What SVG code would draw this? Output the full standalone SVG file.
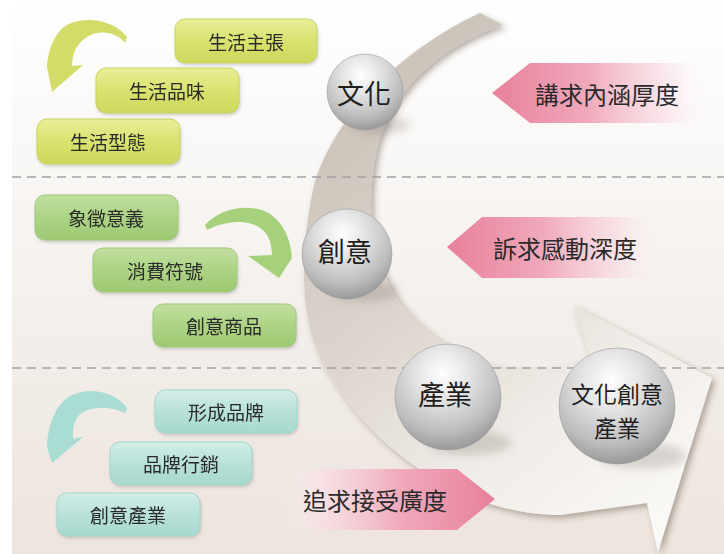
<svg xmlns="http://www.w3.org/2000/svg" width="724" height="554" viewBox="0 0 724 554">
<defs>
<style>
.bt{font-family:"Noto Sans CJK TC","Noto Sans CJK SC",sans-serif;font-size:19px;fill:#2a2a2a;text-anchor:middle;dominant-baseline:central}
.pt{font-family:"Noto Sans CJK TC","Noto Sans CJK SC",sans-serif;font-size:24px;fill:#2a2a2a;text-anchor:middle;dominant-baseline:central}
.st{font-family:"Noto Sans CJK TC","Noto Sans CJK SC",sans-serif;font-size:27px;fill:#1e1e1e;text-anchor:middle;dominant-baseline:central}
.st2{font-family:"Noto Sans CJK TC","Noto Sans CJK SC",sans-serif;font-size:23px;fill:#1e1e1e;text-anchor:middle;dominant-baseline:central}
.dash{stroke:#a3a3a3;stroke-width:1.6;stroke-dasharray:9 6;fill:none}
.yb{fill:url(#gy);stroke:#c9d25f;stroke-width:1}
.gb{fill:url(#gg);stroke:#9fc978;stroke-width:1}
.tb{fill:url(#gt);stroke:#a3d6cc;stroke-width:1}
.ball{fill:url(#gball);stroke:#9c9c9c;stroke-width:0.6}
.sh{fill:#6b5f55;opacity:0.22;filter:url(#blur)}
</style>
<linearGradient id="gbg" x1="0" y1="0" x2="0" y2="1">
<stop offset="0" stop-color="#ffffff"/>
<stop offset="0.3" stop-color="#f9f7f5"/>
<stop offset="0.65" stop-color="#f2ede8"/>
<stop offset="1" stop-color="#ede4dd"/>
</linearGradient>
<linearGradient id="gband" x1="0.25" y1="0" x2="0.85" y2="1">
<stop offset="0" stop-color="#c9c0b6"/>
<stop offset="0.4" stop-color="#dcd5cd"/>
<stop offset="0.7" stop-color="#f0ece7"/>
<stop offset="1" stop-color="#fbfaf8"/>
</linearGradient>
<linearGradient id="gy" x1="0" y1="0" x2="0" y2="1">
<stop offset="0" stop-color="#e8ee98"/>
<stop offset="0.5" stop-color="#d9e26f"/>
<stop offset="1" stop-color="#cdd85c"/>
</linearGradient>
<linearGradient id="gg" x1="0" y1="0" x2="0" y2="1">
<stop offset="0" stop-color="#c2e0a0"/>
<stop offset="0.5" stop-color="#acd384"/>
<stop offset="1" stop-color="#9dc973"/>
</linearGradient>
<linearGradient id="gt" x1="0" y1="0" x2="0" y2="1">
<stop offset="0" stop-color="#d2eee8"/>
<stop offset="0.5" stop-color="#b8e1d9"/>
<stop offset="1" stop-color="#a7d8ce"/>
</linearGradient>
<linearGradient id="gpl" x1="0" y1="0" x2="1" y2="0">
<stop offset="0" stop-color="#e8809b"/>
<stop offset="0.45" stop-color="#f0a9bb"/>
<stop offset="0.8" stop-color="#f9dbe3" stop-opacity="0.7"/>
<stop offset="1" stop-color="#fdf2f5" stop-opacity="0"/>
</linearGradient>
<linearGradient id="gpr" x1="1" y1="0" x2="0" y2="0">
<stop offset="0" stop-color="#e8809b"/>
<stop offset="0.45" stop-color="#f0a9bb"/>
<stop offset="0.8" stop-color="#f9dbe3" stop-opacity="0.7"/>
<stop offset="1" stop-color="#fdf2f5" stop-opacity="0"/>
</linearGradient>
<radialGradient id="gball" cx="0.45" cy="0.28" r="0.78">
<stop offset="0" stop-color="#ffffff"/>
<stop offset="0.3" stop-color="#e6e6e6"/>
<stop offset="0.7" stop-color="#bdbdbd"/>
<stop offset="0.92" stop-color="#9a9a9a"/>
<stop offset="1" stop-color="#8a8a8a"/>
</radialGradient>
<filter id="blur" x="-50%" y="-50%" width="200%" height="200%"><feGaussianBlur stdDeviation="4"/></filter>
<filter id="ds" x="-10%" y="-10%" width="130%" height="130%"><feDropShadow dx="3" dy="3" stdDeviation="3" flood-color="#4a3a2a" flood-opacity="0.4"/></filter>
<filter id="bs" x="-10%" y="-20%" width="130%" height="150%"><feDropShadow dx="1" dy="2" stdDeviation="1.5" flood-color="#777" flood-opacity="0.3"/></filter>
</defs>

<rect x="0" y="0" width="724" height="554" fill="#ffffff"/>
<rect x="12" y="0" width="712" height="554" fill="url(#gbg)"/>

<g id="big-arrow">
<path d="M480,13 C400,50 330,120 313,190 C298,260 300,330 330,375 C370,445 460,515 560,515 L647,503 L658,552 L712,378 L573,305 L590,357 C560,372 520,376 480,362 C440,345 400,315 385,275 C370,240 368,200 375,160 C385,100 430,50 503,25 Z" fill="url(#gband)" filter="url(#ds)"/>
</g>

<g id="dividers">
<line class="dash" x1="12" y1="177" x2="724" y2="177"/>
<line class="dash" x1="12" y1="368" x2="724" y2="368"/>
</g>

<g id="connectors">
<path id="arrow-yellow" d="M127,37 C115,20 85,15 67,25 C55,32 48,50 47,67 L52,92 L83,65 L72,66 C72,52 78,40 93,34 C105,30 118,34 125,43 Z" fill="#d3dc68"/>
<path id="arrow-green" d="M205,225 C220,208 250,202 270,214 C285,224 291,242 292,258 L279,278 L248,256 L272,255 C272,240 266,228 252,224 C236,219 218,224 207,230 Z" fill="#a7d07c"/>
<path id="arrow-teal" d="M127,408 C115,392 90,386 70,396 C55,405 48,425 47,447 L52,463 L83,437 L73,439 C72,425 76,415 85,411 C100,405 115,408 125,413 Z" fill="#a9dcd3"/>
</g>

<g id="box-shenghuo-zhuzhang" filter="url(#bs)"><rect class="yb" x="175" y="19" width="142" height="44" rx="10"/><text class="bt" x="246" y="41">生活主張</text></g>
<g id="box-shenghuo-pinwei" filter="url(#bs)"><rect class="yb" x="96" y="68" width="143" height="45" rx="10"/><text class="bt" x="167" y="90.5">生活品味</text></g>
<g id="box-shenghuo-xingtai" filter="url(#bs)"><rect class="yb" x="37" y="119" width="143" height="45" rx="10"/><text class="bt" x="108" y="141.5">生活型態</text></g>

<g id="box-xiangzheng" filter="url(#bs)"><rect class="gb" x="35" y="195" width="143" height="45" rx="10"/><text class="bt" x="106" y="217.5">象徵意義</text></g>
<g id="box-xiaofei" filter="url(#bs)"><rect class="gb" x="93" y="248" width="144" height="44" rx="10"/><text class="bt" x="165" y="270">消費符號</text></g>
<g id="box-chuangyi-shangpin" filter="url(#bs)"><rect class="gb" x="153" y="304" width="143" height="43" rx="10"/><text class="bt" x="224" y="325.5">創意商品</text></g>

<g id="box-xingcheng" filter="url(#bs)"><rect class="tb" x="155" y="390" width="142" height="43" rx="10"/><text class="bt" x="226" y="411.5">形成品牌</text></g>
<g id="box-pinpai" filter="url(#bs)"><rect class="tb" x="110" y="442" width="142" height="43" rx="10"/><text class="bt" x="181" y="463.5">品牌行銷</text></g>
<g id="box-chuangyi-chanye" filter="url(#bs)"><rect class="tb" x="57" y="493" width="143" height="43" rx="10"/><text class="bt" x="128" y="514.5">創意產業</text></g>

<g id="pink-neihan">
<polygon points="492,93 530,63 705,63 705,123 530,123" fill="url(#gpl)"/>
<text class="pt" x="607" y="93">講求內涵厚度</text>
</g>
<g id="pink-gandong">
<polygon points="447,247 482,217 662,217 662,278 482,278" fill="url(#gpl)"/>
<text class="pt" x="565" y="247">訴求感動深度</text>
</g>
<g id="pink-jieshou">
<polygon points="283,469 457,469 495,499 457,530 283,530" fill="url(#gpr)"/>
<text class="pt" x="375" y="499">追求接受廣度</text>
</g>

<g id="ball-wenhua">
<ellipse class="sh" cx="380" cy="125" rx="30" ry="9"/>
<circle class="ball" cx="365" cy="92" r="38"/>
<text class="st" x="364" y="92">文化</text>
</g>
<g id="ball-chuangyi">
<ellipse class="sh" cx="365" cy="292" rx="34" ry="10"/>
<circle class="ball" cx="347" cy="254" r="45"/>
<text class="st" x="345" y="250">創意</text>
</g>
<g id="ball-chanye">
<ellipse class="sh" cx="470" cy="443" rx="42" ry="12"/>
<circle class="ball" cx="448" cy="397" r="53"/>
<text class="st" x="445" y="393">產業</text>
</g>
<g id="ball-wenchuang">
<ellipse class="sh" cx="642" cy="456" rx="44" ry="13"/>
<circle class="ball" cx="617" cy="406" r="58"/>
<text class="st2" x="617" y="393">文化創意</text>
<text class="st2" x="617" y="427">產業</text>
</g>
</svg>
